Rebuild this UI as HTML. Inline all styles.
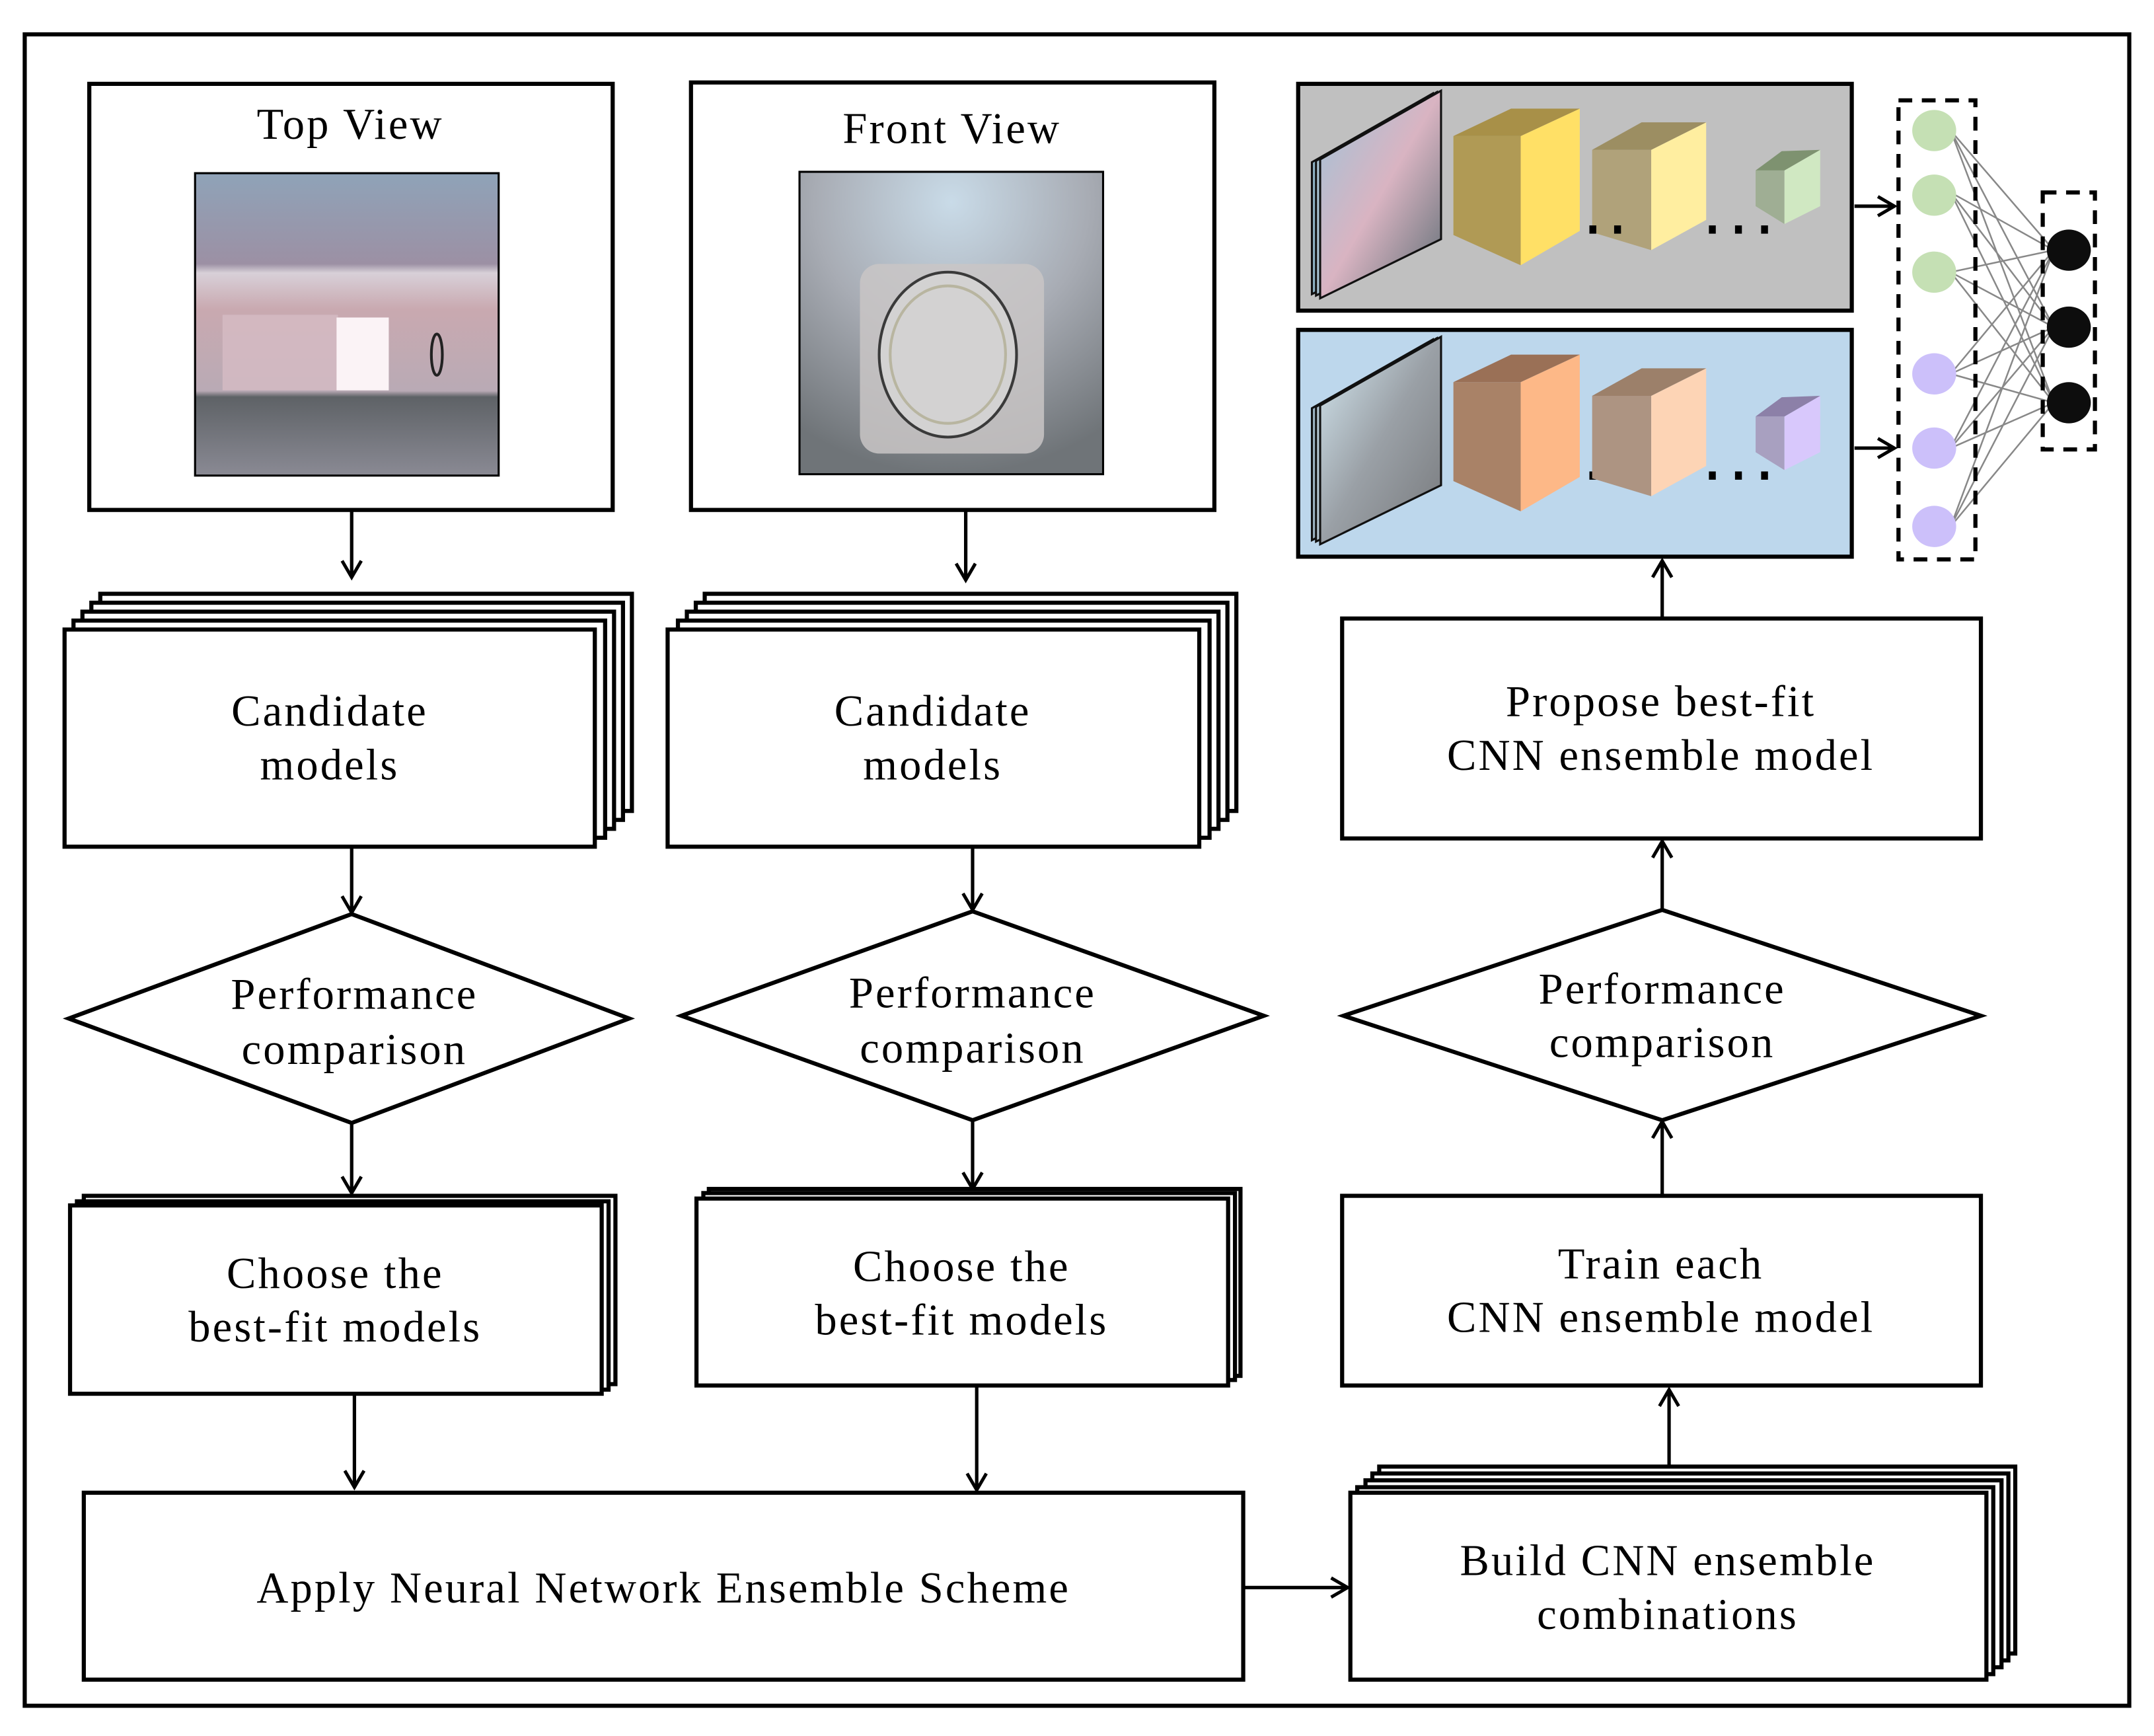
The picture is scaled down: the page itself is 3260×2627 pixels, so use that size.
<!DOCTYPE html>
<html><head><meta charset="utf-8"><style>
html,body{margin:0;padding:0;background:#fff;}
svg{display:block;}
text{font-family:"Liberation Serif",serif;font-size:32px;letter-spacing:1.5px;fill:#000;text-anchor:middle;}
</style></head><body>
<svg width="3260" height="2627" viewBox="0 0 1568 1263" preserveAspectRatio="none" xmlns="http://www.w3.org/2000/svg">
<defs>
<marker id="ah" markerWidth="16" markerHeight="16" refX="13" refY="8" orient="auto" markerUnits="userSpaceOnUse">
<path d="M1,1 L13,8 L1,15" fill="none" stroke="#000" stroke-width="2.4"/>
</marker>
<linearGradient id="tv" x1="0" y1="0" x2="0" y2="1">
<stop offset="0" stop-color="#8fa3b8"/><stop offset="0.3" stop-color="#9c90a4"/>
<stop offset="0.33" stop-color="#d8d0d8"/><stop offset="0.45" stop-color="#c9a9b0"/>
<stop offset="0.72" stop-color="#b9aab5"/><stop offset="0.74" stop-color="#5e6266"/>
<stop offset="1" stop-color="#8a8a94"/></linearGradient>
<radialGradient id="fv" cx="0.5" cy="0.1" r="0.9">
<stop offset="0" stop-color="#c9dbe8"/><stop offset="0.5" stop-color="#a8acb4"/><stop offset="1" stop-color="#6f7478"/></radialGradient>
<linearGradient id="im1" x1="0" y1="0" x2="1" y2="1"><stop offset="0" stop-color="#9fc3d8"/><stop offset="0.5" stop-color="#d9b4c2"/><stop offset="1" stop-color="#5d6d74"/></linearGradient>
<linearGradient id="im2" x1="0" y1="0" x2="1" y2="1"><stop offset="0" stop-color="#d5e9f2"/><stop offset="0.5" stop-color="#9aa0a6"/><stop offset="1" stop-color="#77797c"/></linearGradient>
</defs>
<rect x="18" y="25" width="1532" height="1216" fill="none" stroke="#000" stroke-width="3"/>

<rect x="65" y="61" width="381" height="310" fill="#fff" stroke="#000" stroke-width="3"/>
<text x="255" y="101">Top View</text>
<rect x="142" y="126" width="221" height="220" fill="url(#tv)" stroke="#000" stroke-width="1.5"/>
<rect x="162" y="229" width="84" height="55" fill="#d6bcc4" opacity="0.8"/>
<rect x="245" y="231" width="38" height="53" fill="#fbf3f6"/>
<ellipse cx="318" cy="258" rx="4" ry="15" fill="none" stroke="#222" stroke-width="2"/>
<rect x="503" y="60" width="381" height="311" fill="#fff" stroke="#000" stroke-width="3"/>
<text x="693" y="104">Front View</text>
<rect x="582" y="125" width="221" height="220" fill="url(#fv)" stroke="#000" stroke-width="1.5"/>
<rect x="626" y="192" width="134" height="138" rx="14" fill="#c9c6c6" opacity="0.85"/>
<ellipse cx="690" cy="258" rx="50" ry="60" fill="#d3d2d2" stroke="#3a3a3a" stroke-width="2"/>
<ellipse cx="690" cy="258" rx="42" ry="50" fill="none" stroke="#b8b5a0" stroke-width="2"/>

<line x1="256" y1="372" x2="256" y2="420" stroke="#000" stroke-width="2.5" marker-end="url(#ah)"/>
<line x1="703" y1="372" x2="703" y2="422" stroke="#000" stroke-width="2.5" marker-end="url(#ah)"/>

<g fill="#fff" stroke="#000" stroke-width="3">
<rect x="73" y="432" width="387" height="158"/><rect x="66.5" y="438.5" width="387" height="158"/><rect x="60" y="445" width="387" height="158"/><rect x="53.5" y="451.5" width="387" height="158"/><rect x="47" y="458" width="386" height="158"/>
<rect x="513" y="432" width="387" height="158"/><rect x="506.5" y="438.5" width="387" height="158"/><rect x="500" y="445" width="387" height="158"/><rect x="493.5" y="451.5" width="387" height="158"/><rect x="486" y="458" width="387" height="158"/>
</g>
<text x="240" y="528">Candidate</text><text x="240" y="567">models</text>
<text x="679" y="528">Candidate</text><text x="679" y="567">models</text>

<line x1="256" y1="617" x2="256" y2="664" stroke="#000" stroke-width="2.5" marker-end="url(#ah)"/>
<line x1="708" y1="617" x2="708" y2="662" stroke="#000" stroke-width="2.5" marker-end="url(#ah)"/>

<g fill="#fff" stroke="#000" stroke-width="3">
<polygon points="50,741 256,665 458,741 256,817"/>
<polygon points="496,739 708,663 920,739 708,815"/>
<polygon points="978,739 1210,662 1442,739 1210,815"/>
</g>
<text x="258" y="734">Performance</text><text x="258" y="774">comparison</text>
<text x="708" y="733">Performance</text><text x="708" y="773">comparison</text>
<text x="1210" y="730">Performance</text><text x="1210" y="769">comparison</text>

<line x1="256" y1="818" x2="256" y2="868" stroke="#000" stroke-width="2.5" marker-end="url(#ah)"/>
<line x1="708" y1="816" x2="708" y2="865" stroke="#000" stroke-width="2.5" marker-end="url(#ah)"/>

<g fill="#fff" stroke="#000" stroke-width="3">
<rect x="61" y="870" width="387" height="137"/><rect x="56" y="874" width="387" height="137"/><rect x="51" y="877" width="387" height="137"/>
<rect x="516" y="865" width="387" height="136"/><rect x="512" y="868" width="387" height="136"/><rect x="507" y="872" width="387" height="136"/>
</g>
<text x="244" y="937">Choose the</text><text x="244" y="976">best-fit models</text>
<text x="700" y="932">Choose the</text><text x="700" y="971">best-fit models</text>

<line x1="258" y1="1015" x2="258" y2="1082" stroke="#000" stroke-width="2.5" marker-end="url(#ah)"/>
<line x1="711" y1="1009" x2="711" y2="1084" stroke="#000" stroke-width="2.5" marker-end="url(#ah)"/>

<rect x="61" y="1086" width="844" height="136" fill="#fff" stroke="#000" stroke-width="3"/>
<text x="483" y="1166">Apply Neural Network Ensemble Scheme</text>
<line x1="906" y1="1155" x2="981" y2="1155" stroke="#000" stroke-width="2.5" marker-end="url(#ah)"/>

<g fill="#fff" stroke="#000" stroke-width="3">
<rect x="1004" y="1067" width="463" height="136"/><rect x="999" y="1072" width="463" height="136"/><rect x="994" y="1077" width="463" height="136"/><rect x="988" y="1082" width="463" height="136"/><rect x="983" y="1086" width="463" height="136"/>
</g>
<text x="1214" y="1146">Build CNN ensemble</text><text x="1214" y="1185">combinations</text>

<line x1="1215" y1="1066" x2="1215" y2="1011" stroke="#000" stroke-width="2.5" marker-end="url(#ah)"/>
<rect x="977" y="870" width="465" height="138" fill="#fff" stroke="#000" stroke-width="3"/>
<text x="1209" y="930">Train each</text><text x="1209" y="969">CNN ensemble model</text>
<line x1="1210" y1="869" x2="1210" y2="816" stroke="#000" stroke-width="2.5" marker-end="url(#ah)"/>
<line x1="1210" y1="662" x2="1210" y2="612" stroke="#000" stroke-width="2.5" marker-end="url(#ah)"/>
<rect x="977" y="450" width="465" height="160" fill="#fff" stroke="#000" stroke-width="3"/>
<text x="1209" y="521">Propose best-fit</text><text x="1209" y="560">CNN ensemble model</text>
<line x1="1210" y1="449" x2="1210" y2="408" stroke="#000" stroke-width="2.5" marker-end="url(#ah)"/>

<rect x="945" y="61" width="403" height="165" fill="#c0c0c0" stroke="#000" stroke-width="3"/>
<rect x="945" y="240" width="403" height="165" fill="#bdd7ec" stroke="#000" stroke-width="3"/>
<g stroke="#111" stroke-width="1.5">
<polygon points="955,118 1043,68 1043,170 955,214" fill="#8fb3c5"/>
<polygon points="958,117 1046,67 1046,172 958,215" fill="#a8c4d4"/>
<polygon points="961,116 1049,66 1049,174 961,217" fill="url(#im1)"/>
<polygon points="955,297 1043,247 1043,349 955,393" fill="#9db4c2"/>
<polygon points="958,296 1046,246 1046,351 958,394" fill="#b4c6d2"/>
<polygon points="961,295 1049,245 1049,353 961,396" fill="url(#im2)"/>
</g>
<g>
<polygon points="1058,99 1107,99 1107,193 1058,171" fill="#b09a55"/>
<polygon points="1107,99 1150,79 1150,168 1107,193" fill="#ffe066"/>
<polygon points="1058,99 1100,79 1150,79 1107,99" fill="#a89048"/>
<polygon points="1159,109 1202,109 1202,182 1159,169" fill="#b0a27a"/>
<polygon points="1202,109 1242,89 1242,160 1202,182" fill="#ffeea0"/>
<polygon points="1159,109 1195,89 1242,89 1202,109" fill="#9c8e62"/>
<polygon points="1278,124 1299,124 1299,163 1278,150" fill="#9fae94"/>
<polygon points="1299,124 1325,109 1325,150 1299,163" fill="#d0e8c2"/>
<polygon points="1278,124 1297,110 1325,109 1299,124" fill="#7e9270"/>
</g>
<g fill="#000">
<rect x="1157" y="164" width="5" height="6"/><rect x="1175" y="164" width="5" height="6"/>
<rect x="1244" y="164" width="5" height="6"/><rect x="1263" y="164" width="5" height="6"/><rect x="1282" y="164" width="5" height="6"/>
<rect x="1157" y="343" width="5" height="6"/><rect x="1175" y="343" width="5" height="6"/>
<rect x="1244" y="343" width="5" height="6"/><rect x="1263" y="343" width="5" height="6"/><rect x="1282" y="343" width="5" height="6"/>
</g>
<g transform="translate(0,179)">
<polygon points="1058,99 1107,99 1107,193 1058,171" fill="#a98267"/>
<polygon points="1107,99 1150,79 1150,168 1107,193" fill="#fdb887"/>
<polygon points="1058,99 1100,79 1150,79 1107,99" fill="#9a7056"/>
<polygon points="1159,109 1202,109 1202,182 1159,169" fill="#ad9482"/>
<polygon points="1202,109 1242,89 1242,160 1202,182" fill="#fdd4b5"/>
<polygon points="1159,109 1195,89 1242,89 1202,109" fill="#9c806a"/>
<polygon points="1278,124 1299,124 1299,163 1278,150" fill="#a8a0c0"/>
<polygon points="1299,124 1325,109 1325,150 1299,163" fill="#d8c8fc"/>
<polygon points="1278,124 1297,110 1325,109 1299,124" fill="#8c80a8"/>
</g>
<line x1="1350" y1="150" x2="1379" y2="150" stroke="#000" stroke-width="2.5" marker-end="url(#ah)"/>
<line x1="1350" y1="326" x2="1379" y2="326" stroke="#000" stroke-width="2.5" marker-end="url(#ah)"/>

<g stroke="#888" stroke-width="1.2">
<line x1="1420" y1="95" x2="1495" y2="182"/><line x1="1420" y1="95" x2="1495" y2="238"/><line x1="1420" y1="95" x2="1495" y2="293"/>
<line x1="1420" y1="140" x2="1495" y2="182"/><line x1="1420" y1="140" x2="1495" y2="238"/><line x1="1420" y1="140" x2="1495" y2="293"/>
<line x1="1420" y1="198" x2="1495" y2="182"/><line x1="1420" y1="198" x2="1495" y2="238"/><line x1="1420" y1="198" x2="1495" y2="293"/>
<line x1="1420" y1="272" x2="1495" y2="182"/><line x1="1420" y1="272" x2="1495" y2="238"/><line x1="1420" y1="272" x2="1495" y2="293"/>
<line x1="1420" y1="326" x2="1495" y2="182"/><line x1="1420" y1="326" x2="1495" y2="238"/><line x1="1420" y1="326" x2="1495" y2="293"/>
<line x1="1420" y1="383" x2="1495" y2="182"/><line x1="1420" y1="383" x2="1495" y2="238"/><line x1="1420" y1="383" x2="1495" y2="293"/>
</g>
<g fill="#c5e0b4"><ellipse cx="1408" cy="95" rx="16" ry="15"/><ellipse cx="1408" cy="142" rx="16" ry="15"/><ellipse cx="1408" cy="198" rx="16" ry="15"/></g>
<g fill="#ccc0fa"><ellipse cx="1408" cy="272" rx="16" ry="15"/><ellipse cx="1408" cy="326" rx="16" ry="15"/><ellipse cx="1408" cy="383" rx="16" ry="15"/></g>
<g fill="#0d0d0d"><ellipse cx="1506" cy="182" rx="16" ry="15"/><ellipse cx="1506" cy="238" rx="16" ry="15"/><ellipse cx="1506" cy="293" rx="16" ry="15"/></g>
<rect x="1382" y="73" width="56" height="334" fill="none" stroke="#000" stroke-width="3" stroke-dasharray="10,7"/>
<rect x="1487" y="140" width="38" height="187" fill="none" stroke="#000" stroke-width="3" stroke-dasharray="10,7"/>
</svg>
</body></html>
